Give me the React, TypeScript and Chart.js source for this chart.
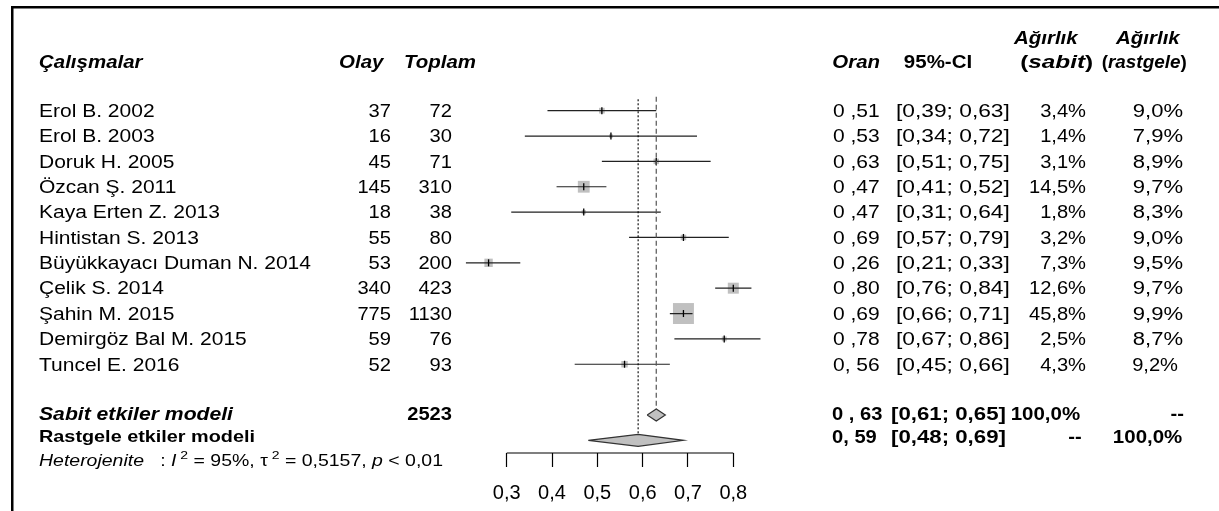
import React, { useEffect, useRef } from "react";
import { Chart, registerables } from "chart.js";
Chart.register(...registerables);

// ---------------- data ----------------
const studyNames = [
  "Erol B. 2002",
  "Erol B. 2003",
  "Doruk H. 2005",
  "Özcan Ş. 2011",
  "Kaya Erten Z. 2013",
  "Hintistan S. 2013",
  "Büyükkayacı Duman N. 2014",
  "Çelik S. 2014",
  "Şahin M. 2015",
  "Demirgöz Bal M. 2015",
  "Tuncel E. 2016",
];
const events = [37, 16, 45, 145, 18, 55, 53, 340, 775, 59, 52];
const totals = [72, 30, 71, 310, 38, 80, 200, 423, 1130, 76, 93];
const estimates = [0.51, 0.53, 0.63, 0.47, 0.47, 0.69, 0.26, 0.8, 0.69, 0.78, 0.56];
const lowerCI = [0.39, 0.34, 0.51, 0.41, 0.31, 0.57, 0.21, 0.76, 0.66, 0.67, 0.45];
const upperCI = [0.63, 0.72, 0.75, 0.52, 0.64, 0.79, 0.33, 0.84, 0.71, 0.86, 0.66];
const weightFixed = [3.4, 1.4, 3.1, 14.5, 1.8, 3.2, 7.3, 12.6, 45.8, 2.5, 4.3];
const weightRandom = [9.0, 7.9, 8.9, 9.7, 8.3, 9.0, 9.5, 9.7, 9.9, 8.7, 9.2];
const oranLabels = ["0 ,51", "0 ,53", "0 ,63", "0 ,47", "0 ,47", "0 ,69", "0 ,26", "0 ,80", "0 ,69", "0 ,78", "0, 56"];
const ciLabels = [
  "[0,39; 0,63]", "[0,34; 0,72]", "[0,51; 0,75]", "[0,41; 0,52]", "[0,31; 0,64]", "[0,57; 0,79]",
  "[0,21; 0,33]", "[0,76; 0,84]", "[0,66; 0,71]", "[0,67; 0,86]", "[0,45; 0,66]",
];
const fixedWeightLabels = ["3,4%", "1,4%", "3,1%", "14,5%", "1,8%", "3,2%", "7,3%", "12,6%", "45,8%", "2,5%", "4,3%"];
const randomWeightLabels = ["9,0%", "7,9%", "8,9%", "9,7%", "8,3%", "9,0%", "9,5%", "9,7%", "9,9%", "8,7%", "9,2%"];
// summary [lower, estimate, upper]
const fixedSummary = [0.61, 0.63, 0.65];
const randomSummary = [0.48, 0.59, 0.69];
const totalN = 2523;
const xTicks = [0.3, 0.4, 0.5, 0.6, 0.7, 0.8];

const FONT = '"Liberation Sans", Arial, Helvetica, sans-serif';
const FIXED_ROW = studyNames.length + 1; // 12
const RANDOM_ROW = studyNames.length + 2; // 13
const DIAMOND_HALF = 0.235; // in row units
const X_MIN = 0.18;
const X_MAX = 0.9;

type Run = { t: string; w?: string; s?: string; sup?: boolean };

function drawRuns(
  ctx: CanvasRenderingContext2D,
  runs: Run[],
  x: number,
  y: number,
  opts: { align?: string; sx?: number; size?: number; weight?: string; style?: string; fit?: number }
) {
  const size = opts.size ?? 17.5;
  const weight = opts.weight ?? "normal";
  const style = opts.style ?? "normal";
  const align = opts.align ?? "left";
  ctx.save();
  const fontOf = (r: Run) =>
    `${r.s ?? style} ${r.w ?? weight} ${r.sup ? size * 0.72 : size}px ${FONT}`;
  let total = 0;
  const widths = runs.map((r) => {
    ctx.font = fontOf(r);
    const w = ctx.measureText(r.t).width;
    total += w;
    return w;
  });
  const sx = opts.fit ? opts.fit / total : opts.sx ?? 1.18;
  const start = align === "left" ? x : align === "right" ? x - total * sx : x - (total * sx) / 2;
  ctx.translate(start, y);
  ctx.scale(sx, 1);
  ctx.textAlign = "left";
  ctx.textBaseline = "alphabetic";
  ctx.fillStyle = "#000";
  let cx = 0;
  runs.forEach((r, i) => {
    ctx.font = fontOf(r);
    ctx.fillText(r.t, cx, r.sup ? -size * 0.42 : 0);
    cx += widths[i];
  });
  ctx.restore();
}

const textPlugin = {
  id: "forestText",
  afterDraw(chart: any) {
    const ctx: CanvasRenderingContext2D = chart.ctx;
    const ys = chart.scales.y;
    // frame (left + top)
    ctx.save();
    ctx.fillStyle = "#000";
    ctx.fillRect(11, 6, 2.5, 511);
    ctx.fillRect(11, 6, 1219, 2.5);
    ctx.restore();

    const S = 17.5;
    const cap = 0.358 * S;
    // headers
    const hb = 67.5;
    const hdr = { weight: "bold", style: "italic", sx: 1.17, size: S };
    drawRuns(ctx, [{ t: "Çalışmalar" }], 39, hb, { ...hdr, align: "left" });
    drawRuns(ctx, [{ t: "Olay" }], 383.5, hb, { ...hdr, align: "right" });
    drawRuns(ctx, [{ t: "Toplam" }], 404, hb, { ...hdr, align: "left" });
    drawRuns(ctx, [{ t: "Oran" }], 832.3, hb, { ...hdr, align: "left" });
    drawRuns(ctx, [{ t: "95%-CI", s: "normal" }], 938, hb, { ...hdr, align: "center" });
    drawRuns(ctx, [{ t: "Ağırlık" }], 1045.8, 43.5, { ...hdr, align: "center" });
    drawRuns(ctx, [{ t: "(", s: "normal" }, { t: "sabit" }, { t: ")", s: "normal" }], 1056.7, hb, {
      ...hdr,
      align: "center",
      fit: 73,
    });
    drawRuns(ctx, [{ t: "Ağırlık" }], 1147.9, 43.5, { ...hdr, align: "center" });
    drawRuns(ctx, [{ t: "(", s: "normal" }, { t: "rastgele" }, { t: ")", s: "normal" }], 1144.2, hb, {
      ...hdr,
      align: "center",
      fit: 85,
    });

    // study rows
    studyNames.forEach((name, i) => {
      const b = ys.getPixelForValue(i) + cap;
      drawRuns(ctx, [{ t: name }], 39, b, { sx: 1.2, size: S });
      drawRuns(ctx, [{ t: String(events[i]) }], 391, b, { sx: 1.15, size: S, align: "right" });
      drawRuns(ctx, [{ t: String(totals[i]) }], 452, b, { sx: 1.15, size: S, align: "right" });
      drawRuns(ctx, [{ t: oranLabels[i] }], 833, b, { sx: 1.2, size: S });
      drawRuns(ctx, [{ t: ciLabels[i] }], 896, b, { sx: 1.3, size: S });
      drawRuns(ctx, [{ t: fixedWeightLabels[i] }], 1086, b, { sx: 1.15, size: S, align: "right" });
      const last = i === studyNames.length - 1;
      drawRuns(ctx, [{ t: randomWeightLabels[i] }], last ? 1178 : 1183, b, {
        sx: last ? 1.15 : 1.26,
        size: S,
        align: "right",
      });
    });

    // fixed model row
    const fb = ys.getPixelForValue(FIXED_ROW) - 1 + cap;
    drawRuns(ctx, [{ t: "Sabit etkiler modeli" }], 39, fb, { weight: "bold", style: "italic", size: S, fit: 194 });
    drawRuns(ctx, [{ t: String(totalN) }], 452, fb, { weight: "bold", size: S, sx: 1.15, align: "right" });
    drawRuns(ctx, [{ t: "0 , " + fixedSummary[1].toFixed(2).slice(2) }], 832, fb, { weight: "bold", size: S, sx: 1.15 });
    drawRuns(
      ctx,
      [{ t: `[${fixedSummary[0].toFixed(2).replace(".", ",")}; ${fixedSummary[2].toFixed(2).replace(".", ",")}]` }],
      891,
      fb,
      { weight: "bold", size: S, sx: 1.27 }
    );
    drawRuns(ctx, [{ t: "100,0%" }], 1010.7, fb, { weight: "bold", size: S, sx: 1.17 });
    drawRuns(ctx, [{ t: "--" }], 1184, fb, { weight: "bold", size: S, sx: 1.15, align: "right" });

    // random model row
    const rS = 16.5;
    const rb = ys.getPixelForValue(RANDOM_ROW) - 4.5 + 0.358 * rS;
    drawRuns(ctx, [{ t: "Rastgele etkiler modeli" }], 39, rb, { weight: "bold", size: rS, fit: 216 });
    const rb2 = ys.getPixelForValue(RANDOM_ROW) - 4 + cap;
    drawRuns(ctx, [{ t: "0, " + randomSummary[1].toFixed(2).slice(2) }], 832, rb2, { weight: "bold", size: S, sx: 1.15 });
    drawRuns(
      ctx,
      [{ t: `[${randomSummary[0].toFixed(2).replace(".", ",")}; ${randomSummary[2].toFixed(2).replace(".", ",")}]` }],
      891,
      rb2,
      { weight: "bold", size: S, sx: 1.27 }
    );
    drawRuns(ctx, [{ t: "--" }], 1081.7, rb2, { weight: "bold", size: S, sx: 1.15, align: "right" });
    drawRuns(ctx, [{ t: "100,0%" }], 1182.3, rb2, { weight: "bold", size: S, sx: 1.17, align: "right" });

    // heterogeneity
    const hS = 16.2;
    const hbY = ys.getPixelForValue(RANDOM_ROW) + 19.5 + 0.358 * hS;
    drawRuns(
      ctx,
      [
        { t: "Heterojenite", s: "italic" },
        { t: "   : " },
        { t: "I", s: "italic" },
        { t: " 2", sup: true },
        { t: " = 95%, " },
        { t: "τ" },
        { t: " 2", sup: true },
        { t: " = 0,5157, " },
        { t: "p", s: "italic" },
        { t: " < 0,01" },
      ],
      39,
      hbY,
      { size: hS, fit: 404 }
    );
  },
};

export default function App() {
  const ref = useRef<HTMLCanvasElement | null>(null);

  useEffect(() => {
    document.body.style.margin = "0";
    const canvas = ref.current!;
    const n = studyNames.length;

    const squares = estimates.map((v, i) => ({ x: v, y: i }));
    const squareRadius = weightFixed.map((w) => (3.1 * Math.sqrt(w)) / Math.SQRT2);

    const ciSegments: any[] = [];
    for (let i = 0; i < n; i++) {
      ciSegments.push({ x: lowerCI[i], y: i });
      ciSegments.push({ x: upperCI[i], y: i });
      ciSegments.push({ x: null, y: null });
    }

    const diamond = (s: number[], row: number) => [
      { x: s[0], y: row },
      { x: s[1], y: row - DIAMOND_HALF },
      { x: s[2], y: row },
      { x: s[1], y: row + DIAMOND_HALF },
      { x: s[0], y: row },
    ];

    // pixel mapping: 0.3 -> 506.7, 0.8 -> 733.3
    const pxPerUnit = (733.3 - 506.7) / 0.5;
    const padLeft = 506.7 - (0.3 - X_MIN) * pxPerUnit;
    const padRight = 1219 - (733.3 + (X_MAX - 0.8) * pxPerUnit);

    const chart = new Chart(canvas, {
      type: "scatter",
      data: {
        datasets: [
          {
            label: "Ağırlık",
            data: squares,
            pointStyle: "rect",
            pointRadius: squareRadius,
            backgroundColor: "#c0c0c0",
            borderWidth: 0,
            order: 6,
            clip: false,
          } as any,
          {
            type: "line",
            label: "95%-CI",
            data: ciSegments,
            borderColor: "#222",
            borderWidth: 1.2,
            pointRadius: 0,
            spanGaps: false,
            fill: false,
            order: 5,
            clip: false,
          } as any,
          {
            label: "Oran",
            data: squares,
            pointStyle: "line",
            rotation: 90,
            pointRadius: 3.5,
            borderColor: "#000",
            borderWidth: 1.3,
            order: 4,
            clip: false,
          } as any,
          {
            type: "line",
            label: "Sabit",
            data: [
              { x: fixedSummary[1], y: -0.55 },
              { x: fixedSummary[1], y: FIXED_ROW - DIAMOND_HALF },
            ],
            borderColor: "#555",
            borderWidth: 1.2,
            borderDash: [5, 3],
            pointRadius: 0,
            fill: false,
            order: 3,
            clip: false,
          } as any,
          {
            type: "line",
            label: "Rastgele",
            data: [
              { x: randomSummary[1], y: -0.45 },
              { x: randomSummary[1], y: RANDOM_ROW + DIAMOND_HALF },
            ],
            borderColor: "#000",
            borderWidth: 1.1,
            borderDash: [2, 2],
            pointRadius: 0,
            fill: false,
            order: 3,
            clip: false,
          } as any,
          {
            type: "line",
            label: "Sabit etkiler modeli",
            data: diamond(fixedSummary, FIXED_ROW),
            borderColor: "#333",
            borderWidth: 1.2,
            backgroundColor: "#c0c0c0",
            fill: "shape",
            pointRadius: 0,
            tension: 0,
            order: 2,
            clip: false,
          } as any,
          {
            type: "line",
            label: "Rastgele etkiler modeli",
            data: diamond(randomSummary, RANDOM_ROW),
            borderColor: "#333",
            borderWidth: 1.2,
            backgroundColor: "#c0c0c0",
            fill: "shape",
            pointRadius: 0,
            tension: 0,
            order: 1,
            clip: false,
          } as any,
          {
            type: "line",
            label: "axis",
            data: [
              { x: xTicks[0], y: RANDOM_ROW + 0.5 },
              { x: xTicks[xTicks.length - 1], y: RANDOM_ROW + 0.5 },
            ],
            borderColor: "#000",
            borderWidth: 1.2,
            pointRadius: 0,
            fill: false,
            order: 0,
            clip: false,
          } as any,
        ],
      },
      options: {
        responsive: false,
        animation: false,
        devicePixelRatio: 1,
        layout: { padding: { left: padLeft, right: padRight, top: 98, bottom: 0 } },
        plugins: { legend: { display: false }, tooltip: { enabled: false } },
        events: [],
        scales: {
          x: {
            type: "linear",
            position: "bottom",
            min: X_MIN,
            max: X_MAX,
            afterBuildTicks: (scale: any) => {
              scale.ticks = xTicks.map((v) => ({ value: v }));
            },
            afterFit: (scale: any) => {
              scale.height = 58;
            },
            ticks: {
              autoSkip: false,
              maxRotation: 0,
              padding: 14,
              color: "#000",
              font: { family: FONT, size: 20 },
              callback: (v: any) => Number(v).toFixed(1).replace(".", ","),
            },
            grid: {
              drawOnChartArea: false,
              drawTicks: true,
              tickLength: 14,
              tickColor: "#000",
              tickWidth: 1.2,
            },
            border: { display: false },
          },
          y: {
            type: "linear",
            display: false,
            reverse: true,
            min: -0.5,
            max: RANDOM_ROW + 0.5,
          },
        },
      } as any,
      plugins: [textPlugin],
    });
    return () => chart.destroy();
  }, []);

  return (
    <div style={{ position: "fixed", left: 0, top: 0, width: 1219, height: 511, background: "#fff" }}>
      <canvas ref={ref} width={1219} height={511} style={{ display: "block" }} />
    </div>
  );
}
